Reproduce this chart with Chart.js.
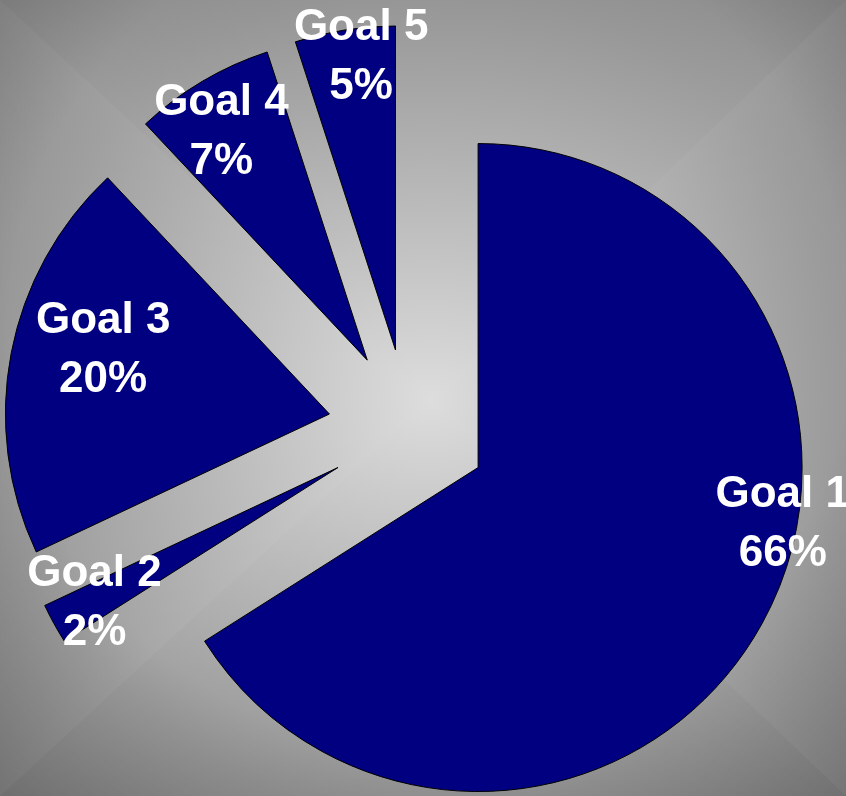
<!DOCTYPE html>
<html>
<head>
<meta charset="utf-8">
<script src="https://cdn.jsdelivr.net/npm/chart.js@4"></script>
<style>
  html, body { margin: 0; padding: 0; background: #999; }
  canvas { display: block; }
</style>
</head>
<body>
<canvas id="goals" width="846" height="796"></canvas>
<script>
const goalNames = ['Goal 1', 'Goal 2', 'Goal 3', 'Goal 4', 'Goal 5'];
const goalShares = [66, 2, 20, 7, 5];

// how far each slice is pulled out of the pie, px
const EXPLODE = 80;
// label placement: angle nudge (deg) from the slice middle and distance from centre as a fraction of radius
const labelNudge = [-15.2, 0.4, 4.4, -1.2, 1.9];
const labelDist = [1.19, 1.10, 0.975, 1.093, 1.17];

const backdrop = {
  id: 'backdrop',
  beforeDraw(chart) {
    const { ctx, width: w, height: h } = chart;
    const cx = 430, cy = 400;
    ctx.save();
    // soft round base
    const base = ctx.createRadialGradient(cx, cy, 0, cx, cy, 600);
    base.addColorStop(0, '#dddddd');
    base.addColorStop(0.7, '#999999');
    base.addColorStop(1, '#858585');
    ctx.fillStyle = base;
    ctx.fillRect(0, 0, w, h);
    // faint rectangular gradient on top, gives the light diagonals
    const sides = [
      { pts: [[0, 0], [w, 0]], to: [cx, 0], edge: '#8f8f8f' },
      { pts: [[w, 0], [w, h]], to: [w, cy], edge: '#999999' },
      { pts: [[w, h], [0, h]], to: [cx, h], edge: '#8c8c8c' },
      { pts: [[0, h], [0, 0]], to: [0, cy], edge: '#999999' },
    ];
    ctx.globalAlpha = 0.45;
    sides.forEach(s => {
      const g = ctx.createLinearGradient(cx, cy, s.to[0], s.to[1]);
      g.addColorStop(0, '#dddddd');
      g.addColorStop(1, s.edge);
      ctx.beginPath();
      ctx.moveTo(cx, cy);
      ctx.lineTo(s.pts[0][0], s.pts[0][1]);
      ctx.lineTo(s.pts[1][0], s.pts[1][1]);
      ctx.closePath();
      ctx.fillStyle = g;
      ctx.fill();
    });
    ctx.globalAlpha = 1;
    // darker corners, more so at the bottom
    const r = ctx.createRadialGradient(cx, 330, 420, cx, 330, 640);
    r.addColorStop(0, 'rgba(0,0,0,0)');
    r.addColorStop(1, 'rgba(0,0,0,0.2)');
    ctx.fillStyle = r;
    ctx.fillRect(0, 0, w, h);
    ctx.restore();
  }
};

// draw every arc shifted along its middle angle
const explode = {
  id: 'explode',
  beforeDatasetDraw(chart, args) {
    const ctx = chart.ctx;
    args.meta.data.forEach(arc => {
      const a = (arc.startAngle + arc.endAngle) / 2;
      ctx.save();
      ctx.translate(Math.cos(a) * EXPLODE, Math.sin(a) * EXPLODE);
      arc.draw(ctx);
      ctx.restore();
    });
    return false;
  }
};

const sliceLabels = {
  id: 'sliceLabels',
  afterDraw(chart) {
    const ctx = chart.ctx;
    const meta = chart.getDatasetMeta(0);
    ctx.save();
    ctx.fillStyle = '#ffffff';
    ctx.font = 'bold 44px "Liberation Sans", Arial, sans-serif';
    ctx.textAlign = 'center';
    ctx.textBaseline = 'alphabetic';
    meta.data.forEach((arc, i) => {
      const a = (arc.startAngle + arc.endAngle) / 2 + labelNudge[i] * Math.PI / 180;
      const d = arc.outerRadius * labelDist[i];
      const x = arc.x + Math.cos(a) * d;
      const y = arc.y + Math.sin(a) * d;
      ctx.fillText(goalNames[i], x, y - 29 + 16);
      ctx.fillText(goalShares[i] + '%', x, y + 30 + 16);
    });
    ctx.restore();
  }
};

new Chart(document.getElementById('goals'), {
  type: 'pie',
  data: {
    labels: goalNames,
    datasets: [{
      data: goalShares,
      backgroundColor: '#000080',
      borderColor: '#000000',
      borderWidth: 1,
      radius: 324,
    }]
  },
  options: {
    responsive: false,
    animation: false,
    layout: { padding: { left: 0, right: 30, top: 62, bottom: 0 } },
    plugins: {
      legend: { display: false },
      tooltip: { enabled: false },
    },
  },
  plugins: [backdrop, explode, sliceLabels],
});
</script>
</body>
</html>
